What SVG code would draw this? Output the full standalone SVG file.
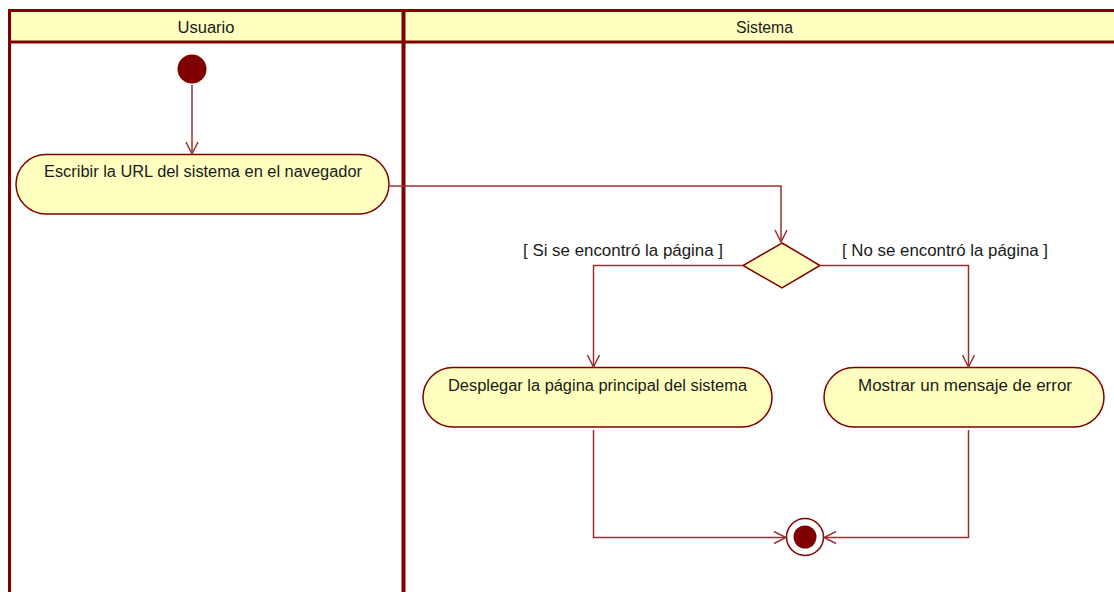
<svg xmlns="http://www.w3.org/2000/svg" width="1114" height="592" viewBox="0 0 1114 592">
<style>
.lane{fill:none;stroke:#800000;stroke-width:3}
.hdr{fill:#FFFFC0}
.act{fill:#FFFFC0;stroke:#800000;stroke-width:1.5}
.dec{fill:#FFFFC0;stroke:#800000;stroke-width:1.5}
.t{font-family:"Liberation Sans",Arial,sans-serif;font-size:16px;fill:#1a1a1a}
.c{fill:none;stroke:#963030;stroke-width:1.5}
</style>
<defs>
<marker id="arr" viewBox="0 0 14 14" refX="13" refY="7" markerWidth="14" markerHeight="14" markerUnits="userSpaceOnUse" orient="auto">
<path d="M1,1 L13,7 L1,13" fill="none" stroke="#963030" stroke-width="1.5"/>
</marker>
</defs>
<rect width="1114" height="592" fill="#ffffff"/>
<g id="swimlanes">
<rect class="hdr" x="9" y="10" width="1105" height="32"/>
<line class="lane" x1="9" y1="10.5" x2="1114" y2="10.5"/>
<line class="lane" x1="9" y1="42" x2="1114" y2="42"/>
<line class="lane" x1="9.5" y1="9" x2="9.5" y2="592"/>
<line x1="403.5" y1="9" x2="403.5" y2="592" stroke="#800000" stroke-width="4"/>
<text class="t" x="206" y="33" text-anchor="middle" textLength="57" lengthAdjust="spacingAndGlyphs">Usuario</text>
<text class="t" x="764.5" y="33" text-anchor="middle" textLength="57" lengthAdjust="spacingAndGlyphs">Sistema</text>
</g>
<g id="start">
<circle cx="192" cy="69" r="14.5" fill="#800000"/>
</g>
<g id="a1">
<rect class="act" x="16" y="154.5" width="373" height="59.5" rx="30" ry="30"/>
<text class="t" x="203" y="177" text-anchor="middle" textLength="318" lengthAdjust="spacingAndGlyphs">Escribir la URL del sistema en el navegador</text>
</g>
<g id="decision">
<polygon class="dec" points="782,243 820,265.5 782,288 743,265.5"/>
</g>
<g id="a2">
<rect class="act" x="423" y="367.5" width="349" height="59.5" rx="30" ry="30"/>
<text class="t" x="597.5" y="391" text-anchor="middle" textLength="299" lengthAdjust="spacingAndGlyphs">Desplegar la página principal del sistema</text>
</g>
<g id="a3">
<rect class="act" x="824" y="367.5" width="280" height="59.5" rx="30" ry="30"/>
<text class="t" x="965" y="391" text-anchor="middle" textLength="214" lengthAdjust="spacingAndGlyphs">Mostrar un mensaje de error</text>
</g>
<g id="end">
<circle cx="805" cy="537" r="18.5" fill="#ffffff" stroke="#800000" stroke-width="1.5"/>
<circle cx="805" cy="537" r="11.5" fill="#800000"/>
</g>
<g id="connectors">
<line class="c" x1="192" y1="85" x2="192" y2="154" marker-end="url(#arr)"/>
<polyline class="c" points="390,186 781,186 781,242" marker-end="url(#arr)"/>
<polyline class="c" points="743,265.5 593.5,265.5 593.5,367" marker-end="url(#arr)"/>
<polyline class="c" points="820,265.5 968.5,265.5 968.5,367" marker-end="url(#arr)"/>
<polyline class="c" points="593.5,430 593.5,537.5 786,537.5" marker-end="url(#arr)"/>
<polyline class="c" points="968.5,430 968.5,537.5 824,537.5" marker-end="url(#arr)"/>
<text class="t" x="623" y="256" text-anchor="middle" textLength="200" lengthAdjust="spacingAndGlyphs">[ Si se encontró la página ]</text>
<text class="t" x="945" y="256" text-anchor="middle" textLength="206" lengthAdjust="spacingAndGlyphs">[ No se encontró la página ]</text>
</g>
</svg>
